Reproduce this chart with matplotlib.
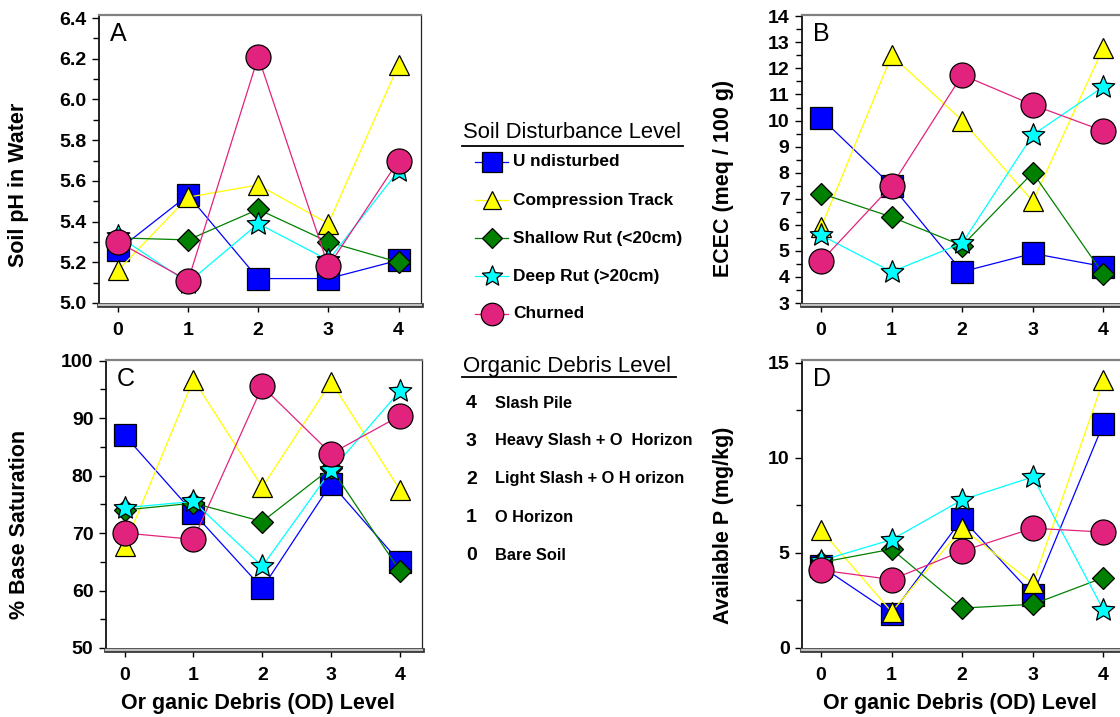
import matplotlib
matplotlib.use("Agg")
import numpy as np
import matplotlib.pyplot as plt
from matplotlib.lines import Line2D
from matplotlib.path import Path
import matplotlib.patheffects as pe
from matplotlib.ticker import MultipleLocator

plt.rcParams['font.family'] = ['Liberation Sans', 'DejaVu Sans']

# Organic debris levels (x axis)
od_levels = [0, 1, 2, 3, 4]

# Soil disturbance series
series_names = ["U ndisturbed", "Compression Track", "Shallow Rut (<20cm)",
                "Deep Rut (>20cm)", "Churned"]

# A: soil pH in water
ph_undisturbed = [5.26, 5.53, 5.12, 5.12, 5.21]
ph_compression = [5.16, 5.52, 5.58, 5.39, 6.17]
ph_shallow = [5.32, 5.31, 5.46, 5.30, 5.20]
ph_deep = [5.33, 5.10, 5.39, 5.21, 5.65]
ph_churned = [5.30, 5.11, 6.21, 5.18, 5.70]

# B: ECEC (meq / 100 g)
ecec_undisturbed = [10.1, 7.5, 4.2, 4.9, 4.4]
ecec_compression = [5.9, 12.5, 10.0, 6.9, 12.8]
ecec_shallow = [7.2, 6.3, 5.2, 8.0, 4.1]
ecec_deep = [5.6, 4.2, 5.3, 9.45, 11.3]
ecec_churned = [4.6, 7.5, 11.75, 10.6, 9.6]

# C: % base saturation
bs_undisturbed = [87.0, 73.5, 60.4, 78.6, 64.9]
bs_compression = [67.8, 96.7, 78.0, 96.3, 77.5]
bs_shallow = [74.0, 75.2, 72.0, 81.3, 63.4]
bs_deep = [74.4, 75.5, 64.2, 80.9, 94.7]
bs_churned = [70.0, 68.9, 95.5, 83.8, 90.4]

# D: available P (mg/kg)
p_undisturbed = [4.3, 1.8, 6.8, 2.8, 11.8]
p_compression = [6.2, 1.9, 6.3, 3.4, 14.1]
p_shallow = [4.5, 5.2, 2.1, 2.3, 3.7]
p_deep = [4.6, 5.7, 7.8, 9.0, 2.0]
p_churned = [4.1, 3.6, 5.1, 6.3, 6.1]

# Organic debris level descriptions
od_descriptions = ["Slash Pile", "Heavy Slash + O  Horizon",
                   "Light Slash + O H orizon", "O Horizon", "Bare Soil"]
od_numbers = ["4", "3", "2", "1", "0"]

xlabel_text = "Or ganic Debris (OD) Level"

colors = ["#0000FF", "#FFFF00", "#008000", "#00FFFF", "#E2237E"]
star = Path.unit_regular_star(5, innerCircle=0.45)
markers = ["s", "^", "D", star, "o"]
msizes = [16, 15, 11.5, 17, 18]

W, H = 1120, 717
fig = plt.figure(figsize=(W / 100, H / 100), dpi=100)


def fx(x):
    return x / W


def fy(y):
    return 1 - y / H


def axes_px(left, top, right, bottom):
    return fig.add_axes([fx(left), fy(bottom), fx(right) - fx(left),
                         (bottom - top) / H])


def style_axes(ax, ylim, major, minor, fmt, letter):
    # spine placement first: moving a spine rebuilds that axis' ticks
    ax.spines['bottom'].set_position(('outward', 1.5))
    ax.spines['top'].set_color('#808080')
    ax.spines['top'].set_linewidth(1.6)
    ax.spines['right'].set_color('#222222')
    ax.spines['right'].set_linewidth(0.9)
    ax.spines['left'].set_color('#111111')
    ax.spines['left'].set_linewidth(1.3)
    ax.spines['bottom'].set_color('#c0c0c0')
    ax.spines['bottom'].set_linewidth(1.6)
    ax.spines['bottom'].set_path_effects(
        [pe.Stroke(linewidth=3.4, foreground='#303030'), pe.Normal()])

    ax.set_xlim(-0.27, 4.32)
    yt = np.arange(ylim[0], ylim[1] + 1e-9, major)
    ax.tick_params(axis='both', which='major', direction='out', length=5,
                   width=1, pad=4, labelsize=14)
    ax.tick_params(axis='x', which='major', pad=7)
    ax.tick_params(axis='y', which='minor', direction='out', length=4, width=1)
    ax.set_xticks(od_levels, labels=[str(v) for v in od_levels],
                  fontweight='bold', fontsize=14)
    ax.set_yticks(yt, labels=[fmt.format(v) for v in yt],
                  fontweight='bold', fontsize=14)
    ax.yaxis.set_minor_locator(MultipleLocator(minor))
    ax.set_ylim(*ylim)
    ax.text(0.035, 0.975, letter, transform=ax.transAxes, fontsize=18,
            va='top', ha='left')


def draw_series(ax, data):
    for vals, c, m, ms in zip(data, colors, markers, msizes):
        ax.plot(od_levels, vals, color=c, lw=0.9, marker=m, markersize=ms,
                markerfacecolor=c, markeredgecolor='black',
                markeredgewidth=0.9, clip_on=False)


axA = axes_px(99, 15, 421, 303)
draw_series(axA, [ph_undisturbed, ph_compression, ph_shallow, ph_deep,
                  ph_churned])
style_axes(axA, (5.0, 6.415), 0.2, 0.1, "{:.1f}", "A")
fig.text(fx(19), fy(185), "Soil pH in Water", rotation=90, fontsize=15.5,
         fontweight='bold', ha='center', va='center')

axB = axes_px(802, 15, 1126, 303)
draw_series(axB, [ecec_undisturbed, ecec_compression, ecec_shallow,
                  ecec_deep, ecec_churned])
style_axes(axB, (3, 14.05), 1, 0.5, "{:.0f}", "B")
fig.text(fx(724), fy(178), "ECEC (meq / 100 g)", rotation=90, fontsize=15.5,
         fontweight='bold', ha='center', va='center')

axC = axes_px(106, 360, 422, 648)
draw_series(axC, [bs_undisturbed, bs_compression, bs_shallow, bs_deep,
                  bs_churned])
style_axes(axC, (50, 100.1), 10, 5, "{:.0f}", "C")
fig.text(fx(20), fy(524), "% Base Saturation", rotation=90, fontsize=15.5,
         fontweight='bold', ha='center', va='center')
fig.text(fx(258), fy(703), xlabel_text, fontsize=15.5, fontweight='bold',
         ha='center', va='center')

axD = axes_px(802, 360, 1126, 648)
draw_series(axD, [p_undisturbed, p_compression, p_shallow, p_deep,
                  p_churned])
style_axes(axD, (0, 15.15), 5, 2.5, "{:.0f}", "D")
fig.text(fx(724), fy(525), "Available P (mg/kg)", rotation=90, fontsize=15.5,
         fontweight='bold', ha='center', va='center')
fig.text(fx(960), fy(703), xlabel_text, fontsize=15.5, fontweight='bold',
         ha='center', va='center')

# Legend: soil disturbance level
fig.text(fx(463), fy(133), "Soil Disturbance Level", fontsize=15.8,
         va='center', ha='left')
fig.add_artist(Line2D([fx(462), fx(683)], [fy(146), fy(146)], color='black',
                      lw=1.3, transform=fig.transFigure))
legend_rows = [162, 200, 238, 276, 314]
for name, c, m, ms, yy in zip(series_names, colors, markers, msizes,
                              legend_rows):
    fig.add_artist(Line2D([fx(475), fx(508)], [fy(yy), fy(yy)], color=c,
                          lw=0.9, transform=fig.transFigure))
    fig.add_artist(Line2D([fx(491.5)], [fy(yy)], color=c, marker=m,
                          markersize=ms * 0.9, markerfacecolor=c,
                          markeredgecolor='black', markeredgewidth=0.9,
                          transform=fig.transFigure))
    fig.text(fx(513), fy(yy), name, fontsize=12.4, fontweight='bold',
             va='center', ha='left')

# Legend: organic debris level
fig.text(fx(463), fy(367), "Organic Debris Level", fontsize=16,
         va='center', ha='left')
fig.add_artist(Line2D([fx(462), fx(676)], [fy(377), fy(377)], color='black',
                      lw=1.3, transform=fig.transFigure))
od_rows = [403, 441, 479, 517, 555]
for num, desc, yy in zip(od_numbers, od_descriptions, od_rows):
    fig.text(fx(466), fy(yy), num, fontsize=14, fontweight='bold',
             va='center', ha='left')
    fig.text(fx(495), fy(yy), desc, fontsize=11.8, fontweight='bold',
             va='center', ha='left')

fig.savefig("out.png", dpi=100)
